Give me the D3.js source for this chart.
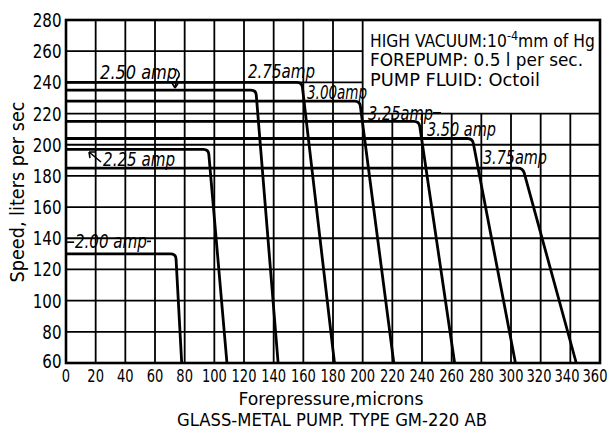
<!DOCTYPE html>
<html>
<head>
<meta charset="utf-8">
<script src="https://cdn.jsdelivr.net/npm/d3@7"></script>
<style>
  html, body { margin: 0; padding: 0; background: #fff; }
  svg { display: block; }
  text { font-family: "DejaVu Sans Condensed", "DejaVu Sans", sans-serif; fill: #000; }
</style>
</head>
<body>
<svg id="chart" width="609" height="429"></svg>
<script>
// ---- data ----
const currents = ["2.00", "2.25", "2.50", "2.75", "3.00", "3.25", "3.50", "3.75"];
const plateauSpeed = [130, 197, 235, 240, 228, 215, 204, 185];     // liters per sec
const cornerPressure = [74, 96, 128, 159, 198, 238, 274, 308];      // microns, end of flat part
const cutoffPressure = [78, 108.5, 143, 181, 221, 262, 303, 344];   // microns, where speed reaches 60
const curveLabels = ["2.00 amp", "2.25 amp", "2.50 amp", "2.75amp", "3.00amp", "3.25amp", "3.50 amp", "3.75amp"];
const xTickLabels = [0, 20, 40, 60, 80, 100, 120, 140, 160, 180, 200, 220, 240, 260, 280, 300, 320, 340, 360];
const yTickLabels = [60, 80, 100, 120, 140, 160, 180, 200, 220, 240, 260, 280];
const noteLines = ["HIGH VACUUM:10", "FOREPUMP: 0.5 l per sec.", "PUMP FLUID: Octoil"];

// ---- layout (not data) ----
const labelAnchor = [[6, 133.5], [25, 186.3], [23, 242.2], [122.7, 242.8], [162.5, 229.3], [203.6, 215.9], [243.4, 205.6], [281.1, 187.6]];
const labelWidth = [72, 72, 77, 67, 60, 65, 69, 64];

const svg = d3.select("#chart");
const x = d3.scaleLinear().domain([0, 360]).range([66, 600]);
const y = d3.scaleLinear().domain([60, 280]).range([363, 20]);

// give a text a wanted width (condensed look of the original lettering)
function fitLen(sel, w) {
  return sel.attr("textLength", w).attr("lengthAdjust", "spacingAndGlyphs");
}
function fitWidth(node, width, pivot) {
  const w = node.getComputedTextLength();
  const k = width / w;
  d3.select(node).attr("transform", `translate(${pivot},0) scale(${k},1) translate(${-pivot},0)`);
}

const grid = svg.append("g").attr("stroke", "#000").attr("stroke-width", 1.8);
// vertical grid lines (those right of 200 stop at 220 because of the note box)
grid.selectAll("line.v").data(xTickLabels).join("line")
  .attr("x1", d => x(d)).attr("x2", d => x(d))
  .attr("y1", y(60))
  .attr("y2", d => (d > 200 && d < 360) ? y(220) : y(280));
// horizontal grid lines (240 and 260 stop at 200)
grid.selectAll("line.h").data(yTickLabels).join("line")
  .attr("y1", d => y(d)).attr("y2", d => y(d))
  .attr("x1", x(0))
  .attr("x2", d => (d > 220 && d < 280) ? x(200) : x(360));

// frame
svg.append("rect").attr("x", x(0)).attr("y", y(280))
  .attr("width", x(360) - x(0)).attr("height", y(60) - y(280))
  .attr("fill", "none").attr("stroke", "#000").attr("stroke-width", 2.6);

// curves: flat part, small rounded knee, straight fall to 60
function curvePath(i) {
  const s = plateauSpeed[i], xc = cornerPressure[i], xb = cutoffPressure[i];
  const p = d3.path();
  const cx = x(xc), cy = y(s), ex = x(xb), ey = y(60);
  const len = Math.hypot(ex - cx, ey - cy);
  const r = 5;
  p.moveTo(x(0), cy);
  p.lineTo(cx - r, cy);
  p.quadraticCurveTo(cx, cy, cx + (ex - cx) * r / len, cy + (ey - cy) * r / len);
  p.lineTo(ex, ey);
  return p.toString();
}
svg.append("g").selectAll("path").data(currents).join("path")
  .attr("d", (d, i) => curvePath(i)).attr("fill", "none").attr("stroke", "#000")
  .attr("stroke-width", 2.8).attr("stroke-linejoin", "round");

// curve labels
svg.append("g").selectAll("text").data(curveLabels).join("text")
  .attr("x", (d, i) => x(labelAnchor[i][0]))
  .attr("y", (d, i) => y(labelAnchor[i][1]))
  .attr("font-size", 19).attr("font-style", "italic")
  .text(d => d)
  .attr("textLength", (d, i) => labelWidth[i]).attr("lengthAdjust", "spacingAndGlyphs");

// leader marks / arrows
const lead = svg.append("g").attr("stroke", "#000").attr("fill", "none").attr("stroke-width", 1.6);
lead.append("line").attr("x1", x(0)).attr("x2", x(5.5)).attr("y1", y(137.5)).attr("y2", y(137.5));
lead.append("line").attr("x1", 147).attr("x2", 151).attr("y1", y(138)).attr("y2", y(138));
// 2.50 amp hook arrow
lead.append("path").attr("d", "M176,69 q6,5 1,10 l-2,8");
lead.append("path").attr("d", "M175,88 l-3,-5 M175,88 l3,-4.5");
// 2.25 amp arrow
lead.append("path").attr("d", "M101,162 l-12,-10 M89,152 l1,6 M89,152 l6,0");
// 3.25 amp dash
lead.append("line").attr("x1", 433).attr("x2", 441).attr("y1", y(220.5)).attr("y2", y(220.5));

// axis tick labels
svg.append("g").selectAll("text").data(yTickLabels).join("text")
  .attr("x", 61.5).attr("y", d => y(d) + (d === 60 ? 5 : 7))
  .attr("text-anchor", "end").attr("font-size", 20)
  .text(d => d)
  .attr("textLength", d => String(d).length * 9.6).attr("lengthAdjust", "spacingAndGlyphs");
const xLabelPos = d => x(d) - Math.max(0, d - 300) / 12;
const xLabelBase = 382.5;
svg.append("g").selectAll("text").data(xTickLabels).join("text")
  .attr("x", xLabelPos).attr("y", xLabelBase)
  .attr("text-anchor", "middle").attr("font-size", 14)
  .attr("transform", `translate(0,${xLabelBase}) scale(1,1.3) translate(0,${-xLabelBase})`)
  .text(d => d)
  .attr("textLength", d => String(d).length * 8.3).attr("lengthAdjust", "spacingAndGlyphs");

// axis titles
fitLen(svg.append("text")
  .attr("transform", "translate(24,192) rotate(-90)")
  .attr("text-anchor", "middle").attr("font-size", 20).text("Speed, liters per sec"), 181);
fitLen(svg.append("text").attr("x", 331).attr("y", 404.5).attr("text-anchor", "middle")
  .attr("font-size", 18).text("Forepressure,microns"), 185);
fitLen(svg.append("text").attr("x", 332).attr("y", 426).attr("text-anchor", "middle")
  .attr("font-size", 18).text("GLASS-METAL PUMP. TYPE GM-220 AB"), 310);

// note box text
const note = svg.append("g").attr("font-size", 18);
const t1 = note.append("text").attr("x", 370).attr("y", 47);
t1.append("tspan").text(noteLines[0]);
t1.append("tspan").attr("dy", -7).attr("font-size", 13).text("-4");
t1.append("tspan").attr("dy", 7).text("mm of Hg");
fitWidth(t1.node(), 225, 370);
fitLen(note.append("text").attr("x", 370).attr("y", 66).text(noteLines[1]), 213);
fitLen(note.append("text").attr("x", 370).attr("y", 86).text(noteLines[2]), 170);
</script>
</body>
</html>
